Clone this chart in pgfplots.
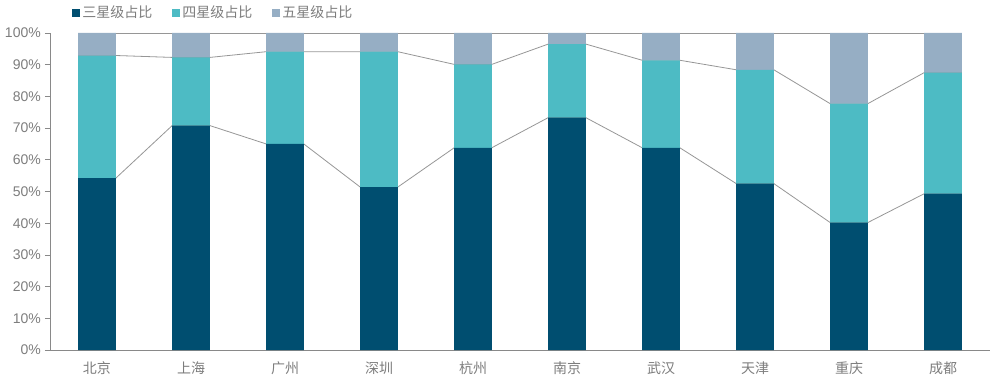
\documentclass[border=0pt]{standalone}
\usepackage{pgfplots}
\pgfplotsset{compat=1.18}
\usepackage{fontspec}
\setmainfont{Liberation Sans}
\newfontfamily\cjk{Noto Sans CJK SC}
\definecolor{cA}{RGB}{0,78,112}
\definecolor{cB}{RGB}{77,187,196}
\definecolor{cC}{RGB}{150,174,196}
\definecolor{axgray}{RGB}{137,137,137}
\definecolor{txt}{RGB}{125,125,125}
\definecolor{lin}{RGB}{150,150,150}
\pgfplotsset{
  common/.style={
    at={(50pt,31pt)}, anchor=south west,
    scale only axis, width=940pt, height=317pt,
    xmin=-0.5, xmax=9.5, ymin=0, ymax=100,
  }
}
\begin{document}
\begin{tikzpicture}
\path[use as bounding box] (0,0) rectangle (996pt,381pt);
% connecting lines (behind bars)
\begin{axis}[common, axis lines=none, ticks=none, clip=false]
\addplot[lin, line width=0.8pt] coordinates {
(-0.2,54.2)(0.2,54.2)(0.8,70.8)(1.2,70.8)(1.8,65.0)(2.2,65.0)(2.8,51.4)(3.2,51.4)(3.8,63.8)(4.2,63.8)
(4.8,73.3)(5.2,73.3)(5.8,63.8)(6.2,63.8)(6.8,52.5)(7.2,52.5)(7.8,40.2)(8.2,40.2)(8.8,49.3)(9.2,49.3)};
\addplot[lin, line width=0.8pt] coordinates {
(-0.2,92.9)(0.2,92.9)(0.8,92.3)(1.2,92.3)(1.8,94.1)(2.2,94.1)(2.8,94.1)(3.2,94.1)(3.8,90.1)(4.2,90.1)
(4.8,96.5)(5.2,96.5)(5.8,91.4)(6.2,91.4)(6.8,88.4)(7.2,88.4)(7.8,77.7)(8.2,77.7)(8.8,87.5)(9.2,87.5)};
\addplot[lin, line width=0.8pt] coordinates {(0,100)(9,100)};
\end{axis}
\begin{axis}[common,
  ybar stacked, bar width=0.4,
  axis x line*=bottom, axis y line*=left,
  axis line style={axgray, line width=0.8pt, -},
  tick style={axgray, line width=0.8pt},
  tick align=outside,
  ytick={0,10,...,100},
  yticklabels={0\%,10\%,20\%,30\%,40\%,50\%,60\%,70\%,80\%,90\%,100\%},
  major tick length=5pt,
  yticklabel style={font=\fontsize{14}{16}\selectfont, text=txt, inner sep=0pt, xshift=-4pt},
  xtick={0,...,9},
  xticklabels={北京,上海,广州,深圳,杭州,南京,武汉,天津,重庆,成都},
  xtick style={draw=none},
  xticklabel style={font=\cjk\fontsize{14}{16}\selectfont, text=txt, yshift=-3pt},
  extra x ticks={-0.5,0.5,...,9.5},
  extra x tick labels={},
  extra x tick style={xtick style={axgray, line width=0.8pt}, major tick length=5pt},
  legend style={at={(0.0235,1.064)}, anchor=west, draw=none, fill=none,
    inner sep=0pt, font=\cjk\fontsize{14}{16}\selectfont, text=txt,
    legend columns=3,
    nodes={inner sep=2pt},
    /tikz/every even column/.append style={column sep=18pt}},
  legend image code/.code={\fill[#1] (0pt,-4pt) rectangle (8pt,4pt);},
  legend cell align=left,
]
\addplot[fill=cA, draw=none] coordinates {(0,54.2)(1,70.8)(2,65.0)(3,51.4)(4,63.8)(5,73.3)(6,63.8)(7,52.5)(8,40.2)(9,49.3)};
\addplot[fill=cB, draw=none] coordinates {(0,38.7)(1,21.5)(2,29.1)(3,42.7)(4,26.3)(5,23.2)(6,27.6)(7,35.9)(8,37.5)(9,38.2)};
\addplot[fill=cC, draw=none] coordinates {(0,7.1)(1,7.7)(2,5.9)(3,5.9)(4,9.9)(5,3.5)(6,8.6)(7,11.6)(8,22.3)(9,12.5)};
\legend{三星级占比,四星级占比,五星级占比}
\end{axis}
\end{tikzpicture}
\end{document}
